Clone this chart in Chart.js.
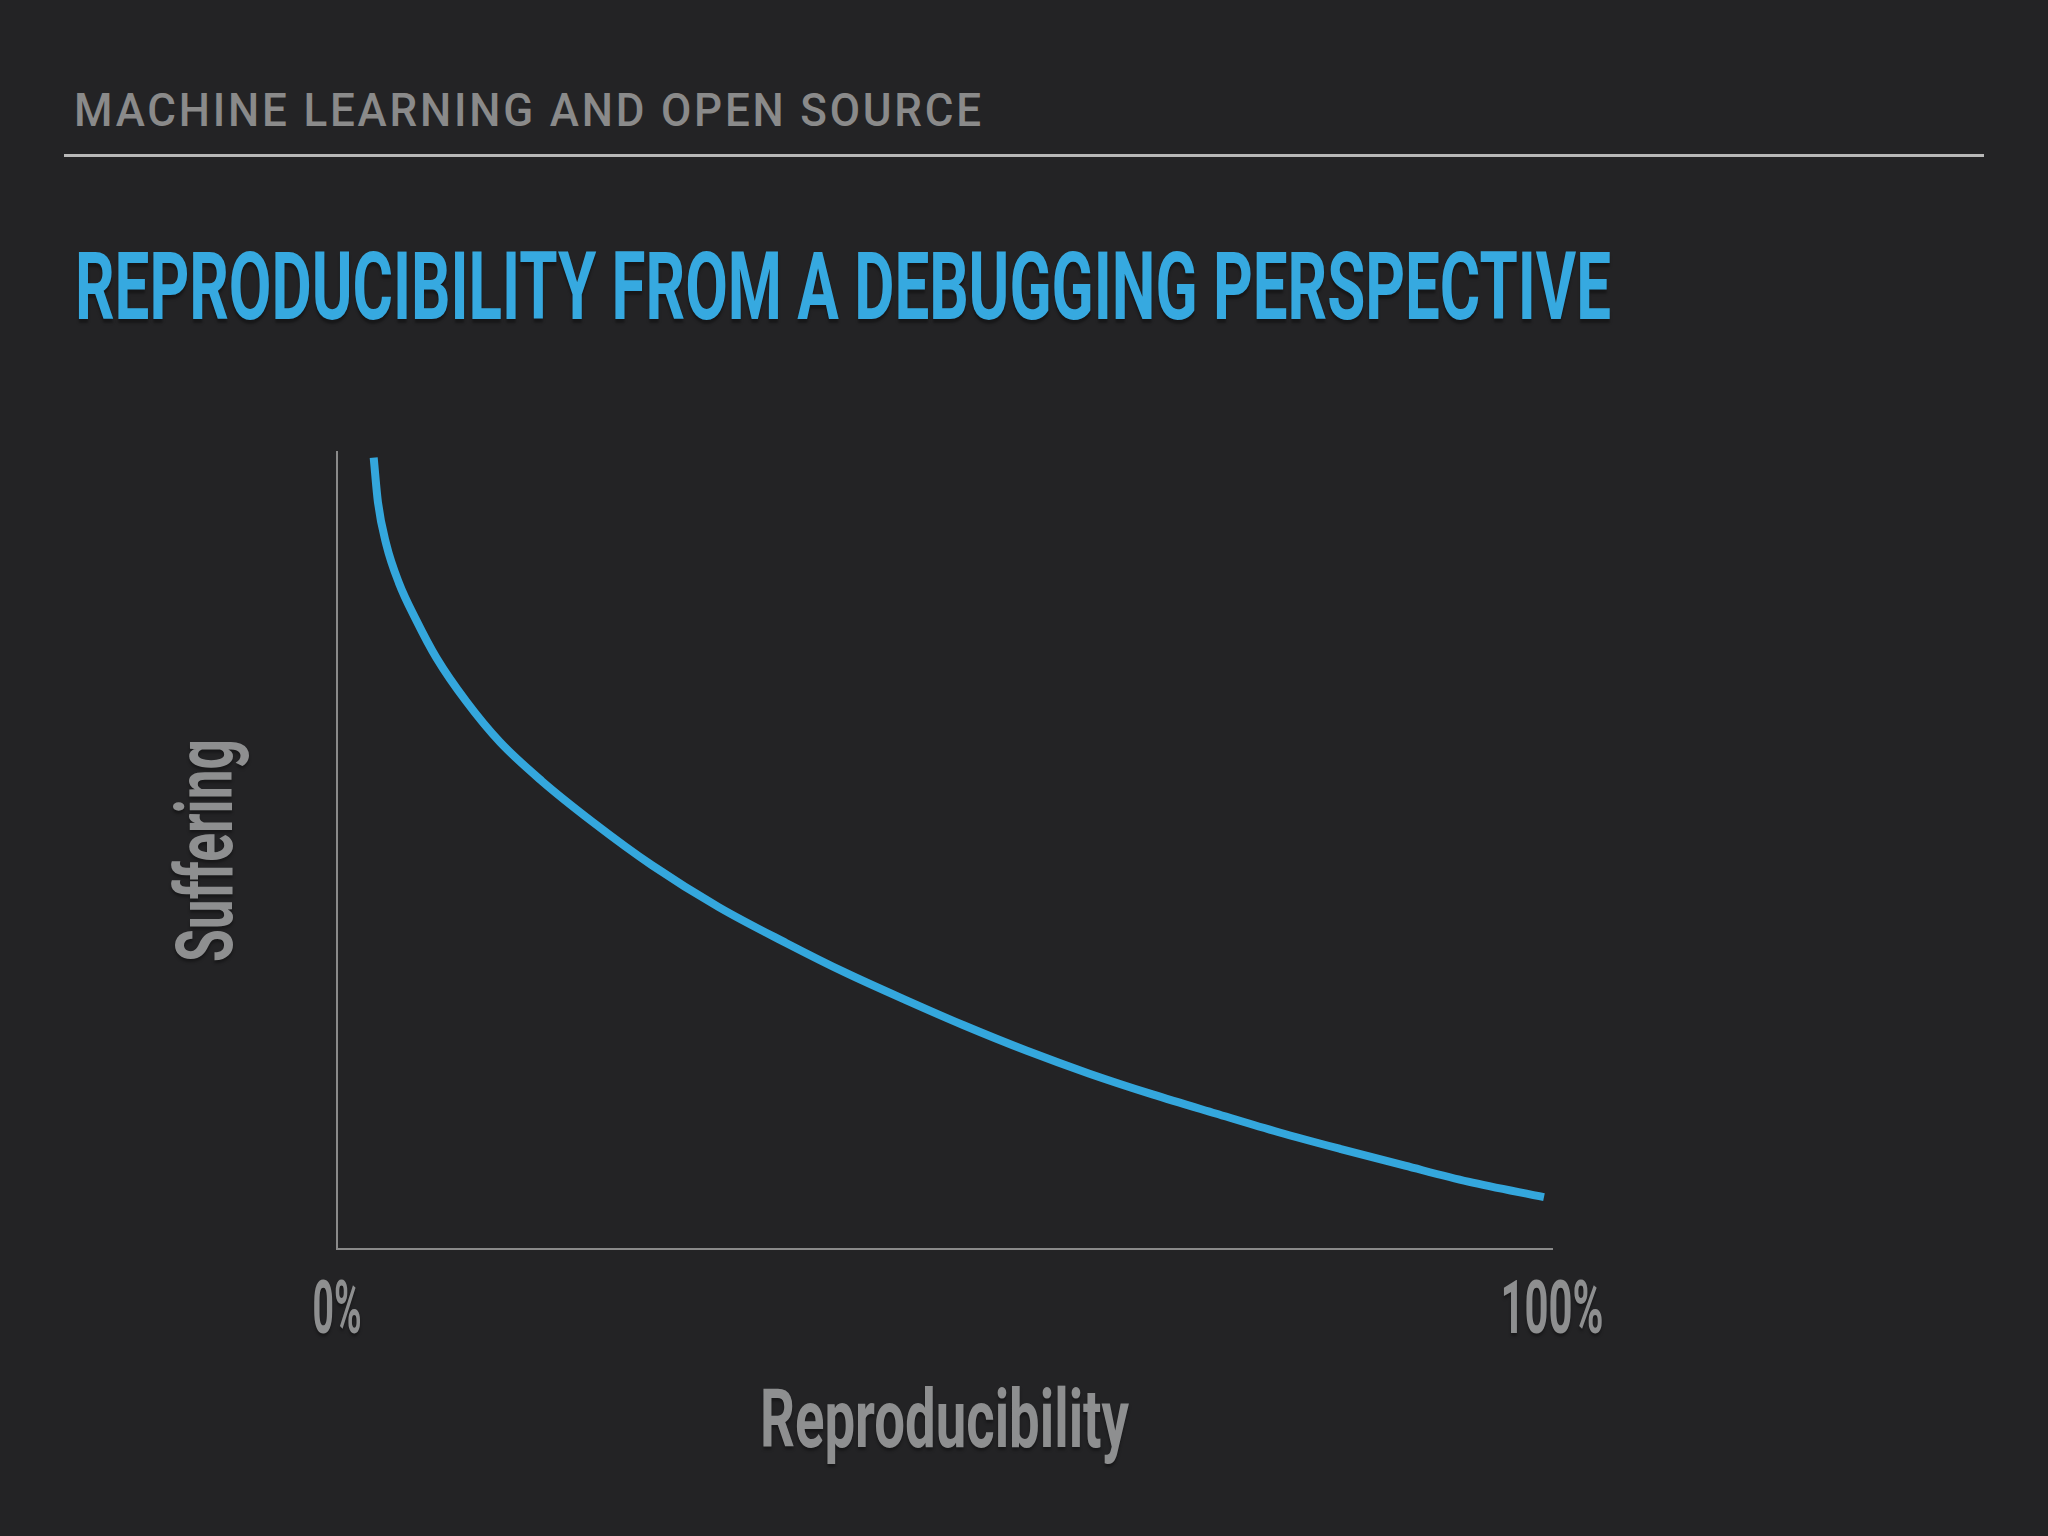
<!DOCTYPE html>
<html>
<head>
<meta charset="utf-8">
<script src="https://cdn.jsdelivr.net/npm/chart.js@4/dist/chart.umd.min.js"></script>
<style>
  html, body { margin: 0; padding: 0; background: #232325; }
  #stage { position: relative; width: 2048px; height: 1536px; background: #232325; overflow: hidden; }
  #chart { position: absolute; left: 0; top: 0; }
  .fit { position: absolute; white-space: nowrap; line-height: 1; transform-origin: 0 0; font-family: Roboto, "Open Sans", sans-serif; }
  #header { left: 74px; top: 86px; font-size: 47px; font-weight: 500; color: #8a8a8a; letter-spacing: 3px; }
  #title { left: 75px; top: 240px; font-size: 94px; font-weight: 700; color: #36a9e0; text-shadow: 0 4px 3px rgba(0,0,0,0.35); }
  #rule { position: absolute; left: 64px; top: 154px; width: 1920px; height: 3px; background: #b8b8b8; }
</style>
</head>
<body>
<div id="stage">
  <div id="header" class="fit" data-w="910">MACHINE LEARNING AND OPEN SOURCE</div>
  <div id="rule"></div>
  <div id="title" class="fit" data-w="1536">REPRODUCIBILITY FROM A DEBUGGING PERSPECTIVE</div>
  <canvas id="chart" width="2048" height="1536"></canvas>
</div>
<script>
// ---- data ----
const reproducibility = [3.02, 3.37, 4.06, 5.09, 6.49, 8.21, 10.64, 13.41, 16.87, 21.03, 25.88, 31.42, 36.96, 41.81, 47.01, 51.53, 56.73, 61.93, 67.12, 72.32, 77.51, 82.71, 87.90, 93.10, 99.34];
const suffering       = [99.3, 93.7, 88.4, 83.6, 79.0, 74.1, 68.7, 63.6, 58.7, 53.6, 48.2, 42.9, 38.4, 34.7, 31.1, 28.1, 24.9, 22.0, 19.4, 17.0, 14.65, 12.5, 10.45, 8.45, 6.5];
const xTickValues = [0, 100];
const xTickLabels = ['0%', '100%'];
const xAxisTitle = 'Reproducibility';
const yAxisTitle = 'Suffering';

// fit HTML headings to measured widths
document.querySelectorAll('.fit').forEach(el => {
  const w = el.getBoundingClientRect().width;
  const target = parseFloat(el.dataset.w);
  el.style.transform = 'scaleX(' + (target / w) + ')';
});

const GRAY = '#8e8f90';
function drawFit(ctx, text, x, y, targetW, font, color, rot) {
  ctx.save();
  ctx.font = font;
  ctx.fillStyle = color;
  ctx.textAlign = 'center';
  ctx.textBaseline = 'alphabetic';
  const w = ctx.measureText(text).width;
  ctx.translate(x, y);
  if (rot) ctx.rotate(rot);
  ctx.scale(targetW / w, 1);
  ctx.shadowColor = 'rgba(0,0,0,0.35)';
  ctx.shadowOffsetY = 3;
  ctx.shadowBlur = 3;
  ctx.fillText(text, 0, 0);
  ctx.restore();
}

const axisText = {
  id: 'axisText',
  afterDraw(chart) {
    const ctx = chart.ctx;
    const xs = chart.scales.x, ys = chart.scales.y;
    const font = '700 75px Roboto, "Open Sans", sans-serif';
    const widths = [49, 103];
    xTickValues.forEach((v, i) => {
      drawFit(ctx, xTickLabels[i], xs.getPixelForValue(v), ys.bottom + 84, widths[i], font, GRAY);
    });
    const cx = (xs.left + xs.right) / 2;
    drawFit(ctx, xAxisTitle, cx, ys.bottom + 198, 369, '700 82px Roboto, "Open Sans", sans-serif', GRAY);
    const cy = (ys.top + ys.bottom) / 2;
    drawFit(ctx, yAxisTitle, xs.left - 105, cy, 223, '700 80px Roboto, "Open Sans", sans-serif', GRAY, -Math.PI / 2);
  }
};

new Chart(document.getElementById('chart'), {
  type: 'line',
  data: {
    datasets: [{
      data: reproducibility.map((x, i) => ({ x: x, y: suffering[i] })),
      borderColor: '#34a7dd',
      borderWidth: 8,
      borderCapStyle: 'butt',
      pointRadius: 0,
      fill: false,
      cubicInterpolationMode: 'monotone',
      clip: false
    }]
  },
  options: {
    responsive: false,
    animation: false,
    layout: { padding: { left: 337, right: 496, top: 452, bottom: 287 } },
    plugins: { legend: { display: false }, tooltip: { enabled: false } },
    scales: {
      x: {
        type: 'linear', min: 0, max: 100,
        grid: { display: false, drawTicks: false },
        ticks: { display: false },
        border: { display: true, color: '#8a8a8a', width: 2 }
      },
      y: {
        type: 'linear', min: 0, max: 100,
        grid: { display: false, drawTicks: false },
        ticks: { display: false },
        border: { display: true, color: '#8a8a8a', width: 2 }
      }
    }
  },
  plugins: [axisText]
});
</script>
</body>
</html>
